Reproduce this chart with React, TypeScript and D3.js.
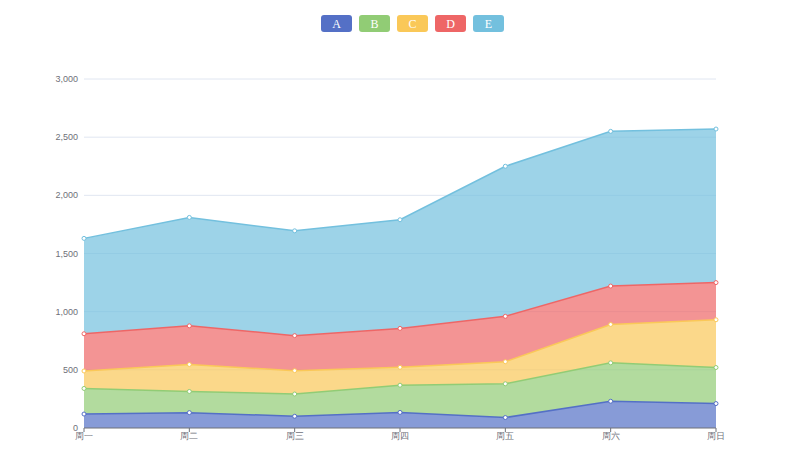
import React from "react";
import * as d3 from "d3";

const categories = ["周一", "周二", "周三", "周四", "周五", "周六", "周日"];
const seriesNames = ["A", "B", "C", "D", "E"];
const seriesA = [120, 132, 101, 134, 90, 230, 210];
const seriesB = [220, 182, 191, 234, 290, 330, 310];
const seriesC = [150, 232, 201, 154, 190, 330, 410];
const seriesD = [320, 332, 301, 334, 390, 330, 320];
const seriesE = [820, 932, 901, 934, 1290, 1330, 1320];
const colors = ["#5470c6", "#91cc75", "#fac858", "#ee6666", "#73c0de"];
const yTicks = [0, 500, 1000, 1500, 2000, 2500, 3000];

export default function App() {
  const W = 800, H = 450;
  const left = 84, right = 716, top = 79, bottom = 428;
  const x = d3.scalePoint<string>().domain(categories).range([left, right]);
  const y = d3.scaleLinear().domain([0, 3000]).range([bottom, top]);
  const all = [seriesA, seriesB, seriesC, seriesD, seriesE];
  const stacked: { lo: number; hi: number }[][] = [];
  const base = categories.map(() => 0);
  all.forEach((s) => {
    const layer = s.map((v, i) => {
      const lo = base[i];
      const hi = lo + v;
      base[i] = hi;
      return { lo, hi };
    });
    stacked.push(layer);
  });
  const area = d3
    .area<{ lo: number; hi: number }>()
    .x((_, i) => x(categories[i])!)
    .y0((d) => y(d.lo))
    .y1((d) => y(d.hi));
  const line = d3
    .line<{ lo: number; hi: number }>()
    .x((_, i) => x(categories[i])!)
    .y((d) => y(d.hi));
  const legendW = 31, legendH = 17, legendGap = 7;
  const legendTotal = seriesNames.length * legendW + (seriesNames.length - 1) * legendGap;
  const legendX0 = 412 - legendTotal / 2 + 0.5;
  return (
    <svg width={W} height={H} style={{ position: "absolute", left: 0, top: 0, background: "#fff" }}>
      {yTicks.map((t) => (
        <g key={t}>
          {t !== 0 && (
            <line x1={left} x2={right} y1={y(t)} y2={y(t)} stroke="#e0e6f1" strokeWidth={1} />
          )}
          <text
            x={78}
            y={y(t)}
            dy="0.35em"
            textAnchor="end"
            fontSize={9}
            fill="#6e7079"
            fontFamily="sans-serif"
          >
            {d3.format(",")(t)}
          </text>
        </g>
      ))}
      {stacked.map((layer, k) => (
        <path key={"a" + k} d={area(layer)!} fill={colors[k]} fillOpacity={0.7} stroke="none" />
      ))}
      {stacked.map((layer, k) => (
        <path key={"l" + k} d={line(layer)!} fill="none" stroke={colors[k]} strokeWidth={1.5} />
      ))}
      <line x1={left} x2={right} y1={bottom} y2={bottom} stroke="#6e7079" strokeWidth={1} />
      {categories.map((c) => (
        <g key={c}>
          <line x1={x(c)} x2={x(c)} y1={bottom} y2={bottom + 4} stroke="#6e7079" />
          <text
            x={x(c)}
            y={bottom + 11}
            textAnchor="middle"
            fontSize={9}
            fill="#6e7079"
            fontFamily="sans-serif"
          >
            {c}
          </text>
        </g>
      ))}
      {stacked.map((layer, k) =>
        layer.map((d, i) => (
          <circle
            key={"c" + k + "-" + i}
            cx={x(categories[i])}
            cy={y(d.hi)}
            r={2}
            fill="#fff"
            stroke={colors[k]}
            strokeWidth={1}
          />
        ))
      )}
      {seriesNames.map((n, k) => {
        const lx = legendX0 + k * (legendW + legendGap);
        return (
          <g key={n}>
            <rect x={lx} y={15} width={legendW} height={legendH} rx={3} fill={colors[k]} />
            <text
              x={lx + legendW / 2}
              y={15 + legendH / 2}
              dy="0.35em"
              textAnchor="middle"
              fontSize={12}
              fill="#fff"
              fontFamily="'Liberation Serif', serif"
            >
              {n}
            </text>
          </g>
        );
      })}
    </svg>
  );
}
